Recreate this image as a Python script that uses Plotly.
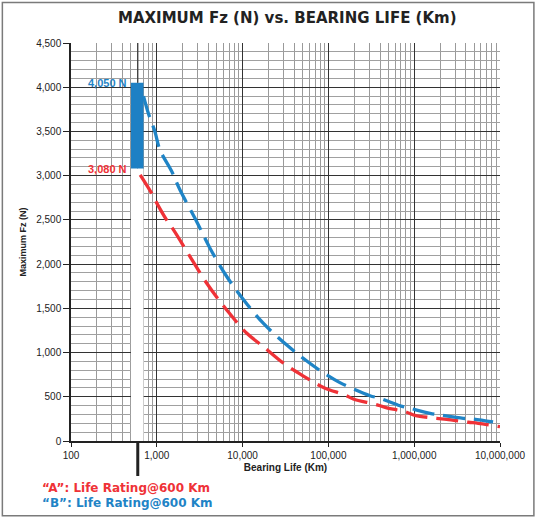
import plotly.graph_objects as go

# curve "A" (red) and "B" (blue)
red_life = [640, 873, 1000, 1300, 1560, 2440, 3820, 6530, 11200, 17500, 30000,
            50000, 88900, 156000, 195000, 351000, 459000, 817000, 1020000,
            1830000, 2390000, 4280000, 5580000, 10000000]
red_fz = [3010, 2800, 2690, 2500, 2390, 2085, 1784, 1482, 1218, 1067, 880,
          740, 603, 520, 475, 415, 381, 325, 290, 257, 245, 212, 200, 162]

blue_life = [700, 800, 950, 1090, 1490, 1860, 2920, 4170, 6530, 10200, 17500,
             34100, 55000, 83600, 136000, 178000, 305000, 399000, 682000,
             893000, 1530000, 2000000, 3740000, 4900000, 8300000]
blue_fz = [3900, 3700, 3500, 3290, 3050, 2840, 2480, 2180, 1860, 1600, 1330,
           1070, 910, 784, 660, 606, 512, 483, 399, 370, 312, 294, 256, 249, 215]

# rating band at 600 Km
band_life = [500, 700]
band_fz = [3080, 4050]
rating_life = 600

x_ticks = [100, 1000, 10000, 100000, 1000000, 10000000]
x_labels = ['100', '1,000', '10,000', '100,000', '1,000,000', '10,000,000']

RED = '#ef3237'
BLUE = '#1f84c6'

fig = go.Figure()
# white strip below the bar (hides the grid there)
fig.add_trace(go.Scatter(x=[band_life[0], band_life[1], band_life[1], band_life[0]],
                         y=[0, 0, band_fz[0], band_fz[0]], mode='none', fill='toself',
                         fillcolor='white', hoverinfo='skip', showlegend=False))
fig.add_trace(go.Scatter(x=red_life, y=red_fz, mode='lines', line_shape='spline',
                         line=dict(color=RED, width=3.3, dash='22px,9px'),
                         showlegend=False))
fig.add_trace(go.Scatter(x=blue_life, y=blue_fz, mode='lines', line_shape='spline',
                         line=dict(color=BLUE, width=3.3, dash='22px,9px'),
                         showlegend=False))

fig.add_shape(type='rect', xref='x', yref='y', x0=band_life[0], x1=band_life[1],
              y0=band_fz[0], y1=band_fz[1], fillcolor='#1e80c4', line_width=0)
fig.add_shape(type='line', xref='x', yref='y', x0=rating_life, x1=rating_life,
              y0=band_fz[1], y1=4500, line=dict(color='#333333', width=1.2))
fig.add_shape(type='line', xref='x', yref='paper', x0=rating_life, x1=rating_life,
              y0=0, y1=-0.088, line=dict(color='#222222', width=3))

# outer frame
fig.add_shape(type='rect', xref='paper', yref='paper', x0=-0.16, x1=1.079,
              y0=-0.188, y1=1.1018, line=dict(color='#7a7a7a', width=1.5))

fig.add_annotation(x=2.7, y=band_fz[1], xref='x', yref='y', text='<b>4,050 N</b>',
                   showarrow=False, xanchor='right', yanchor='middle', xshift=-2,
                   font=dict(color=BLUE, size=11, family='Liberation Sans'))
fig.add_annotation(x=2.7, y=band_fz[0], xref='x', yref='y', text='<b>3,080 N</b>',
                   showarrow=False, xanchor='right', yanchor='middle', xshift=-2,
                   font=dict(color=RED, size=11, family='Liberation Sans'))
fig.add_annotation(x=-0.0723, y=-0.118, xref='paper', yref='paper',
                   text='<b>\u201cA\u201d: Life Rating@600 Km</b>', showarrow=False,
                   xanchor='left', yanchor='middle',
                   font=dict(color=RED, size=12, family='DejaVu Sans'))
fig.add_annotation(x=-0.0723, y=-0.156, xref='paper', yref='paper',
                   text='<b>\u201cB\u201d: Life Rating@600 Km</b>', showarrow=False,
                   xanchor='left', yanchor='middle',
                   font=dict(color=BLUE, size=12, family='DejaVu Sans'))

fig.update_layout(
    width=539, height=518,
    margin=dict(l=71, r=39, t=43, b=77),
    paper_bgcolor='white', plot_bgcolor='white',
    title=dict(text='<b>MAXIMUM Fz (N) vs. BEARING LIFE (Km)</b>', x=0.533, xanchor='center',
               y=0.965, yanchor='middle',
               font=dict(family='DejaVu Sans', size=15, color='#222222')),
    font=dict(family='Liberation Sans', size=10, color='#222222'),
)
fig.update_xaxes(type='log', range=[2, 7], tickvals=x_ticks, ticktext=x_labels,
                 showgrid=True, gridcolor='#333333', gridwidth=1,
                 minor=dict(dtick='D1', showgrid=True, gridcolor='#9a9a9a', gridwidth=1),
                 showline=True, linecolor='#222222', linewidth=1.5,
                 ticks='outside', ticklen=4, tickcolor='#222222',
                 title=dict(text='<b>Bearing Life (Km)</b>', standoff=4,
                            font=dict(size=10)),
                 tickfont=dict(size=10), zeroline=False)
fig.update_yaxes(range=[0, 4500], dtick=500, tickformat=',d',
                 showgrid=True, gridcolor='#333333', gridwidth=1,
                 minor=dict(dtick=100, showgrid=True, gridcolor='#a0a0a0', gridwidth=1),
                 showline=True, linecolor='#222222', linewidth=1.5,
                 ticks='outside', ticklen=6, tickcolor='#222222',
                 title=dict(text='<b>Maximum Fz (N)</b>', standoff=8,
                            font=dict(size=9)),
                 tickfont=dict(size=10), zeroline=False)

# page body has a default 8px margin; drop it so the figure fills the window
fig.write_html("out.html", config={'displayModeBar': False},
               post_script="document.body.style.margin='0';")
